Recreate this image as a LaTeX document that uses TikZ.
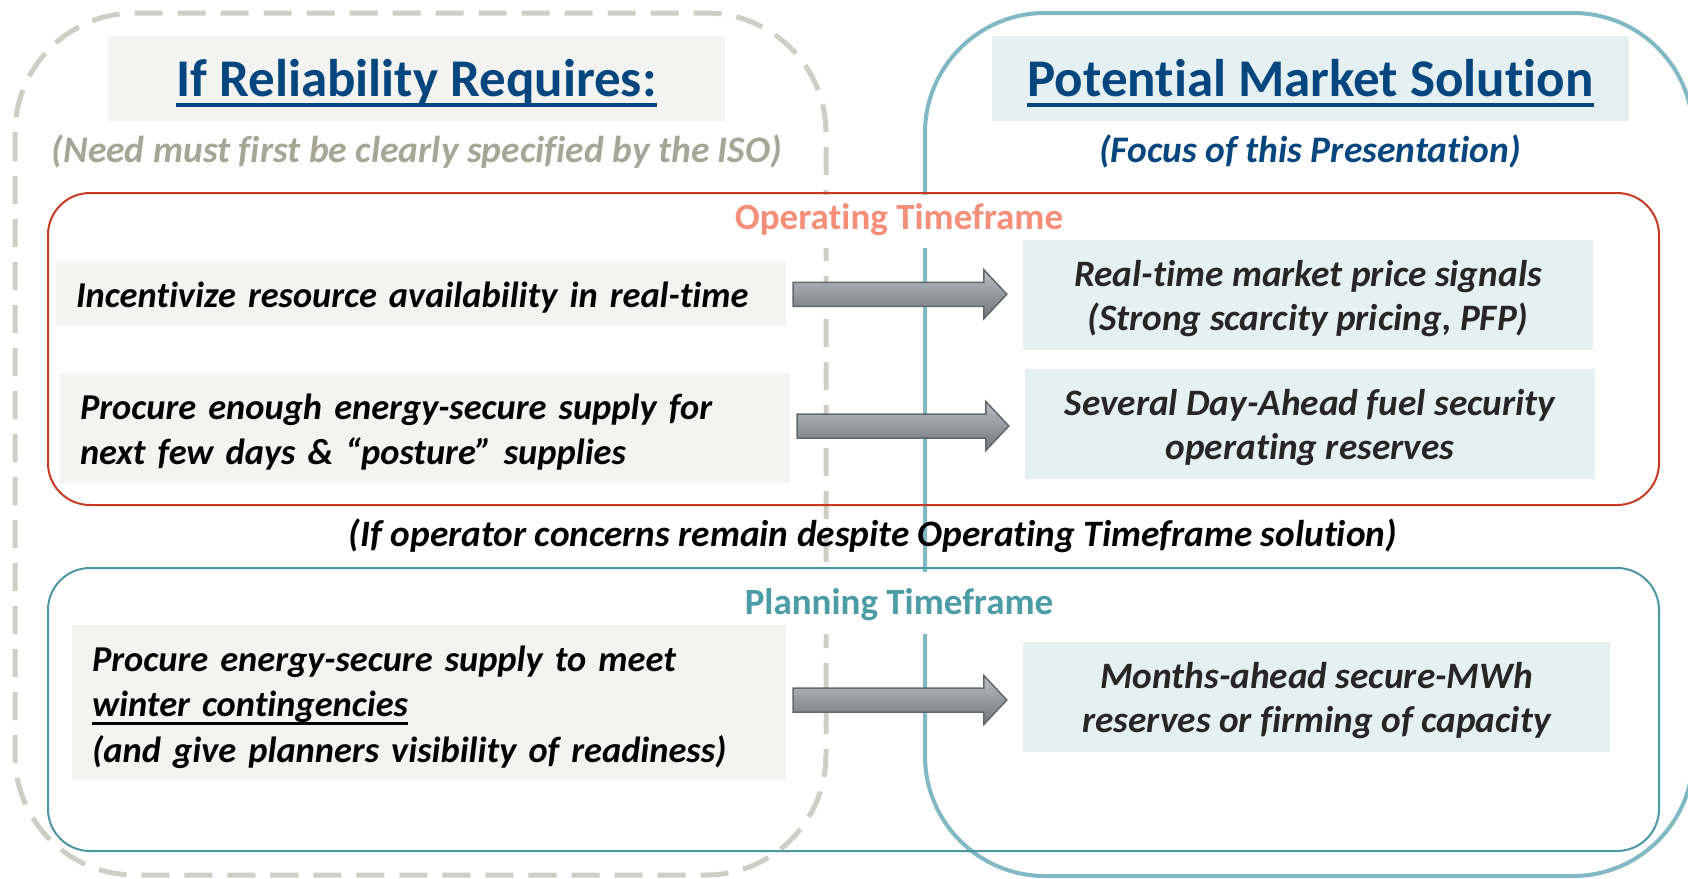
\documentclass[tikz,border=0pt]{standalone}
\usepackage{fontspec}
\setmainfont{Carlito}[Ligatures=NoCommon]
\usetikzlibrary{calc}

% palette
\definecolor{dashgray}{RGB}{206,206,196}
\definecolor{bigteal}{RGB}{128,185,196}
\definecolor{redframe}{RGB}{198,58,34}
\definecolor{planframe}{RGB}{74,152,163}
\definecolor{leftfill}{RGB}{243,243,241}
\definecolor{rightfill}{RGB}{229,240,242}
\definecolor{titleblue}{RGB}{6,70,126}
\definecolor{needgray}{RGB}{166,166,150}
\definecolor{opsalmon}{RGB}{245,143,122}
\definecolor{plantext}{RGB}{76,156,166}
\definecolor{darktext}{RGB}{38,38,38}
\definecolor{arrtop}{RGB}{186,192,196}
\definecolor{arrbot}{RGB}{110,118,124}
\definecolor{arredge}{RGB}{96,104,110}

% underline drawn as a rule of given offset and thickness
\newsavebox\ulbox
\newcommand\ulrule[3]{\sbox\ulbox{#3}\rlap{\rule[-#1]{\wd\ulbox}{#2}}\usebox\ulbox}
% line strut, taller than the standard one so the lines sit lower in their box
\newcommand\lstrut{\vrule height .8\baselineskip depth .2\baselineskip width 0pt\relax}

% shaded block arrow from one box to the next
\newcommand\blockarrow[2]{%
  \path[blockarr] let \p1=(#1.east), \p2=(#2.west), \p3=($(#1.east)!.5!(#2.west)$) in
    (\x1+7pt,\y3+12pt) -- (\x2-39pt,\y3+12pt) -- (\x2-39pt,\y3+24.5pt) -- (\x2-16pt,\y3)
    -- (\x2-39pt,\y3-24.5pt) -- (\x2-39pt,\y3-12pt) -- (\x1+7pt,\y3-12pt) -- cycle;}

\begin{document}
\begin{tikzpicture}[x=1pt,y=-1pt,
  notefont/.style={font=\fontsize{37.5pt}{45pt}\selectfont\bfseries\itshape},
  leftbox/.style={fill=leftfill, inner xsep=20pt, inner ysep=0pt, align=left,
    font=\fontsize{36.4pt}{45pt}\selectfont\bfseries\itshape, text=black},
  rightbox/.style={fill=rightfill, inner sep=0pt, align=center,
    font=\fontsize{37.3pt}{44pt}\selectfont\bfseries\itshape, text=darktext},
  titlebox/.style={inner sep=0pt, text height=39pt, text depth=4pt,
    font=\fontsize{53pt}{64pt}\selectfont\bfseries, text=titleblue},
  tflabel/.style={fill=white, inner xsep=8pt, inner ysep=0pt,
    font=\fontsize{37pt}{45pt}\selectfont\bfseries},
  blockarr/.style={draw=arredge, line width=1.5pt, top color=arrtop, bottom color=arrbot, line join=miter},
]
\useasboundingbox (0,0) rectangle (1688,878);

% two column frames
\draw[dashgray, line width=5pt, dash pattern=on 28pt off 15pt, rounded corners=120pt]
  (15,13) rectangle (826,875);
\draw[bigteal, line width=4pt, rounded corners=120pt] (925,13) rectangle (1693,876);

% column headings
\node[titlebox, fill=leftfill, minimum width=617pt, minimum height=85pt] (reqtitle)
  at (416.5,78.5) {\ulrule{11pt}{4pt}{If Reliability Requires:}};
\node[titlebox, fill=rightfill, minimum width=637pt, minimum height=85pt] (soltitle)
  at (1310.5,78.5) {\ulrule{11pt}{4pt}{Potential Market Solution}};
\node[notefont, text=needgray, anchor=base] (reqnote) at (417,162)
  {(Need must first be clearly specified by the ISO)};
\node[notefont, text=titleblue, anchor=base] (solnote) at (1310,162)
  {(Focus of this Presentation)};

% timeframe labels
\node[tflabel, text=opsalmon, text height=34pt, text depth=19pt] (oplabel) at (899,221.5)
  {Operating Timeframe};
\node[tflabel, text=plantext, text height=42pt, text depth=20pt] (planlabel) at (899,603)
  {Planning Timeframe};

% timeframe frames
\draw[redframe, line width=2pt, rounded corners=42pt] (48,193) rectangle (1659,505);
\draw[planframe, line width=2pt, rounded corners=42pt] (48,568) rectangle (1659,851);

% requirement boxes
\node[leftbox, text width=690pt, minimum height=65pt] (avail) at (421,293.5)
  {\lstrut Incentivize resource availability in real-time};
\node[leftbox, text width=690pt, minimum height=110pt] (posture) at (425,428)
  {\lstrut Procure enough energy-secure supply for\\\lstrut next few days \& “posture” supplies};
\node[leftbox, text width=674pt, minimum height=156pt] (winter) at (429,703)
  {\lstrut Procure energy-secure supply to meet\\\lstrut\ulrule{9pt}{2.7pt}{winter contingencies}\\\lstrut(and give planners visibility of readiness)};

% solution boxes
\node[rightbox, minimum width=570pt, minimum height=110pt] (pricing) at (1308,295)
  {\lstrut Real-time market price signals\\\lstrut(Strong scarcity pricing, PFP)};
\node[rightbox, minimum width=570pt, minimum height=110pt] (dareserve) at (1310,424)
  {\lstrut Several Day-Ahead fuel security\\\lstrut operating reserves};
\node[rightbox, minimum width=587pt, minimum height=110pt] (firming) at (1316.5,697)
  {\lstrut Months-ahead secure-MWh\\\lstrut reserves or firming of capacity};

% arrows
\blockarrow{avail}{pricing}
\blockarrow{posture}{dareserve}
\blockarrow{winter}{firming}

% bridge note
\node[anchor=base, font=\fontsize{37.3pt}{45pt}\selectfont\bfseries\itshape] (bridge) at (873,546)
  {(If operator concerns remain despite Operating Timeframe solution)};
\end{tikzpicture}
\end{document}
